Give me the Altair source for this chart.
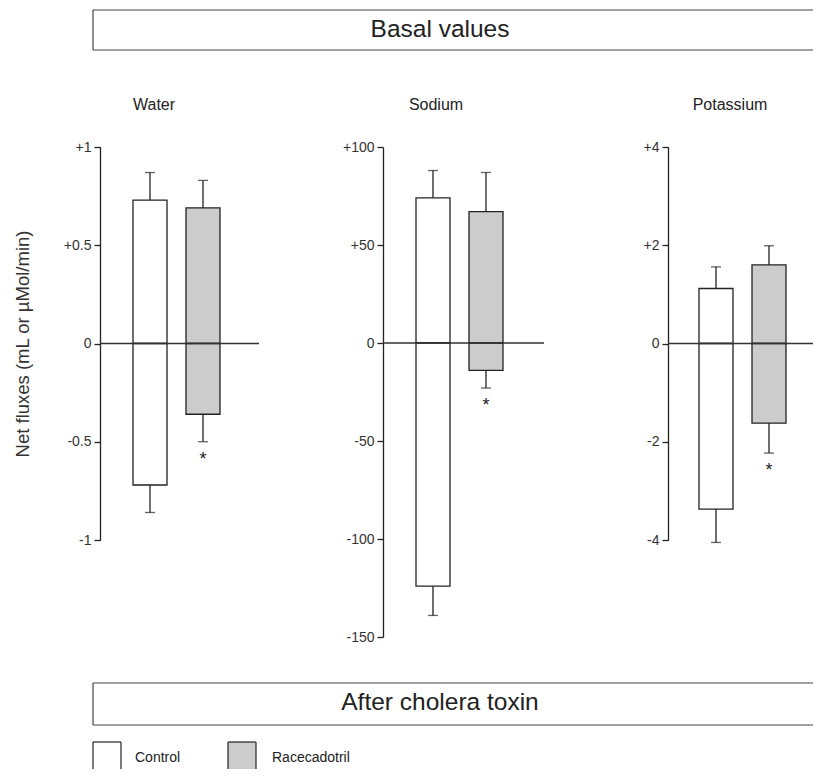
import altair as alt
import pandas as pd

# ---------------- data ----------------
nutrients = ["Water", "Sodium", "Potassium"]
groups = ["Control", "Racecadotril"]
pos_mean = [[0.73, 0.69], [74, 67], [1.12, 1.60]]        # secretion part of the bar
pos_err = [[0.87, 0.83], [88, 87], [1.56, 1.99]]          # end of upper error bar
neg_mean = [[-0.72, -0.36], [-124, -14], [-3.37, -1.62]]  # absorption part of the bar
neg_err = [[-0.86, -0.50], [-139, -23], [-4.05, -2.23]]   # end of lower error bar
signif = [[False, True], [False, True], [False, True]]
y_domains = [[-1, 1], [-150, 100], [-4, 4]]
y_ticks = [[-1, -0.5, 0, 0.5, 1], [-150, -100, -50, 0, 50, 100], [-4, -2, 0, 2, 4]]
header_text = ["Basal values"]
footer_text = ["After cholera toxin"]
y_title = "Net fluxes (mL or µMol/min)"

rows = []
for i, n in enumerate(nutrients):
    for j, g in enumerate(groups):
        rows.append(dict(nutrient=n, group=g, part="pos", value=pos_mean[i][j],
                         err=pos_err[i][j], zero=0, sig=False))
        rows.append(dict(nutrient=n, group=g, part="neg", value=neg_mean[i][j],
                         err=neg_err[i][j], zero=0, sig=signif[i][j]))
df = pd.DataFrame(rows)

# ---------------- style / layout ----------------
FONT = "Liberation Sans"
INK = "#222222"
FRAME = "#444444"
GRAY = "#cccccc"
panel_w = [159, 161, 145]
panel_h = [393, 490, 393]
band_start = [33, 33, 31]
title_x = [54, 53, 62]      # centre of each panel title, from the panel's axis
STEP = 53
BAR = 34
RIGHT = 713   # right end of the header/footer frames (relative to the Water plot)


def one(v):
    return alt.Chart(pd.DataFrame({"t": [v]}))


def hline(x0, x1, y, color=FRAME):
    return one(0).mark_rule(color=color, strokeWidth=1.2).encode(
        x=alt.value(x0), x2=alt.value(x1), y=alt.value(y))


def vline(x, y0, y1, color=FRAME):
    return one(0).mark_rule(color=color, strokeWidth=1.2).encode(
        x=alt.value(x), y=alt.value(y0), y2=alt.value(y1))


def decorations():
    layers = []
    # invisible anchor fixing the top-left corner of the drawing
    layers.append(one(0).mark_rect(opacity=0).encode(
        x=alt.value(-92), x2=alt.value(-91), y=alt.value(-139), y2=alt.value(-138)))
    # header frame (its right side runs off the page) + text
    layers += [hline(-7, RIGHT, -137), hline(-7, RIGHT, -97), vline(-7, -137, -97)]
    layers.append(one(header_text[0]).mark_text(fontSize=24.5, font=FONT, color=INK).encode(
        x=alt.value(340), y=alt.value(-117), text="t:N"))
    # footer frame + text
    layers += [hline(-7, RIGHT, 536), hline(-7, RIGHT, 578), vline(-7, 536, 578)]
    layers.append(one(footer_text[0]).mark_text(fontSize=24.5, font=FONT, color=INK).encode(
        x=alt.value(340), y=alt.value(556), text="t:N"))
    # legend swatches (cut by the bottom of the page) and labels
    for g, fill, x0, tx in [(groups[0], "#ffffff", -7, 35), (groups[1], GRAY, 128, 172)]:
        layers.append(one(0).mark_rect(fill=fill).encode(
            x=alt.value(x0), x2=alt.value(x0 + 28), y=alt.value(595), y2=alt.value(622)))
        layers += [hline(x0, x0 + 28, 595, INK), vline(x0, 595, 622, INK),
                   vline(x0 + 28, 595, 622, INK)]
        layers.append(one(g).mark_text(fontSize=14, font=FONT, color=INK, align="left").encode(
            x=alt.value(tx), y=alt.value(611), text="t:N"))
    return layers


def panel(i):
    n = nutrients[i]
    w, h = panel_w[i], panel_h[i]
    pin = 1 - BAR / STEP
    pout = (w / STEP - (2 - pin)) / 2
    outer = w - STEP * (2 - pin)
    al = band_start[i] / outer
    xs = alt.X("group:N", sort=groups, axis=None, title=None,
               scale=alt.Scale(domain=groups, paddingInner=pin,
                               paddingOuter=pout, align=al))
    ysc = alt.Scale(domain=y_domains[i], nice=False, zero=False)
    ax_kw = dict(values=y_ticks[i],
                 labelExpr="(datum.value > 0 ? '+' : '') + datum.value")
    if i == 0:
        ax_kw.update(titleX=-78, titleY=h / 2, titleAngle=-90,
                     titleAlign="center", titleBaseline="middle")
    yax = alt.Axis(**ax_kw)
    ttl = y_title if i == 0 else None

    def yenc(field):
        return alt.Y(field + ":Q", scale=ysc, axis=yax, title=ttl)

    base = alt.Chart(df[df.nutrient == n])
    bars = base.mark_bar(stroke=INK, strokeWidth=1.3).encode(
        x=xs, y=yenc("value"), y2="zero:Q",
        fill=alt.Fill("group:N", scale=alt.Scale(domain=groups, range=["#ffffff", GRAY]),
                      legend=None))
    whisk = base.mark_rule(color=INK, strokeWidth=1.3).encode(
        x=xs, y=yenc("value"), y2="err:Q")
    caps = base.mark_tick(color=INK, thickness=1.3, size=10).encode(
        x=xs, y=yenc("err"))
    zero = alt.Chart(pd.DataFrame({"z": [0]})).mark_rule(
        color="#333333", strokeWidth=1.4).encode(y=yenc("z"))
    star = base.transform_filter("datum.sig").mark_text(
        text="*", baseline="top", dy=9, fontSize=18, font=FONT, color=INK).encode(
        x=xs, y=yenc("err"))
    title = one(n).mark_text(fontSize=16, font=FONT, color=INK).encode(
        x=alt.value(title_x[i]), y=alt.value(-42), text="t:N")
    layers = [bars, whisk, caps, zero, star, title]
    if i == 0:
        layers += decorations()
    return alt.layer(*layers).properties(width=w, height=h)


chart = alt.hconcat(*[panel(i) for i in range(3)], spacing=124, bounds="flush").properties(
    padding=0,
).configure(font=FONT).configure_view(stroke=None).configure_axis(
    labelFont=FONT, labelFontSize=14, labelColor="#333333",
    domainColor=INK, tickColor=INK, domainWidth=1.3, tickWidth=1.3,
    tickSize=6, labelPadding=3, grid=False,
    titleFont=FONT, titleFontWeight="normal", titleFontSize=18.5, titleColor="#333333",
)

chart.save("out.html", embed_options={"renderer": "svg", "actions": False})
